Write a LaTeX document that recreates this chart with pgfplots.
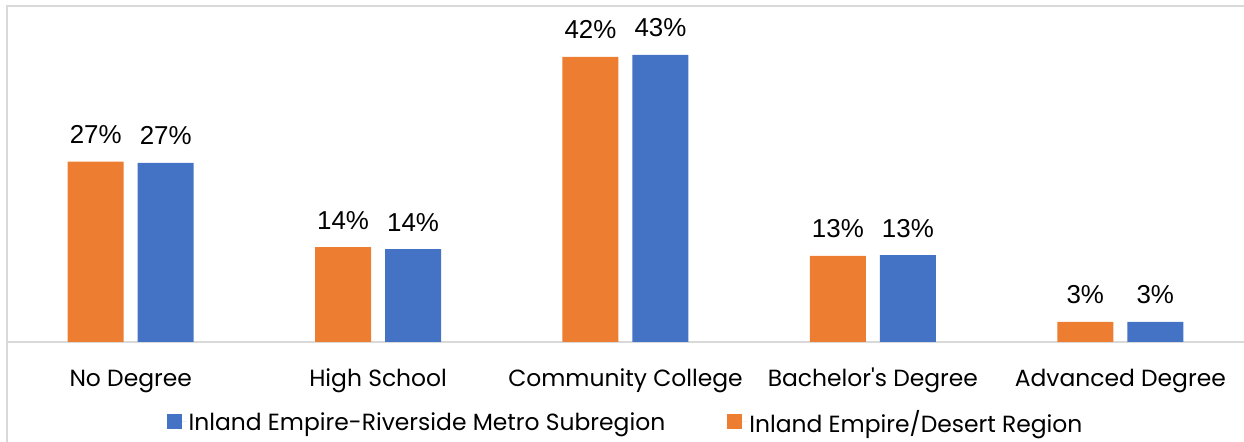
\documentclass[border=0pt]{standalone}
\usepackage{pgfplots}
\pgfplotsset{compat=1.18}
\usepackage{fontspec}
\setmainfont{Poppins}
\newfontfamily\labfont{Liberation Sans}
\definecolor{ieorange}{HTML}{ED7D31}
\definecolor{ieblue}{HTML}{4472C4}
\definecolor{framegray}{HTML}{D9D9D9}
\begin{document}
\begin{tikzpicture}[x=1bp,y=1bp]
\useasboundingbox (0bp,0bp) rectangle (1244bp,442bp);
\draw[line width=1.5bp, framegray] (7bp,0bp) -- (7bp,436bp) -- (1244bp,436bp);
\begin{axis}[
  at={(7bp,100bp)}, anchor=south west,
  scale only axis, width=1237bp, height=336bp,
  xmin=-0.5, xmax=4.5, ymin=0, ymax=50.3,
  axis x line=bottom, axis y line=none,
  x axis line style={-, framegray, line width=1.5bp},
  ytick=\empty,
  xtick={0,1,2,3,4},
  xticklabels={No Degree, High School, Community College, Bachelor\textquotesingle s Degree, Advanced Degree},
  major tick length=0pt,
  xticklabel style={anchor=base, yshift=-44bp, font=\fontsize{23.5}{28}\selectfont},
  ybar, bar width=56bp,
  point meta=explicit symbolic,
  nodes near coords={\pgfplotspointmeta\%},
  every node near coord/.append style={anchor=base, yshift=18bp, inner sep=0pt, font=\labfont\fontsize{26}{30}\selectfont, black},
  legend style={draw=none, at={(0.5,-0.238)}, anchor=center, legend columns=-1,
    font=\fontsize{23.5}{28}\selectfont,
    /tikz/every even column/.append style={column sep=60bp}},
  legend image code/.code={\fill[#1] (0bp,-7.5bp) rectangle (15bp,7.5bp); \path (0bp,0bp) -- (20bp,0bp);},
]
\addplot[fill=ieblue, draw=none, bar shift=35bp] coordinates {(0,26.8)[27] (1,13.9)[14] (2,43.0)[43] (3,13.0)[13] (4,3.0)[3]};
\addlegendentry{Inland Empire-Riverside Metro Subregion}
\addplot[fill=ieorange, draw=none, bar shift=-35bp] coordinates {(0,27.0)[27] (1,14.2)[14] (2,42.7)[42] (3,12.9)[13] (4,3.0)[3]};
\addlegendentry{Inland Empire/Desert Region}
\end{axis}
\end{tikzpicture}
\end{document}
